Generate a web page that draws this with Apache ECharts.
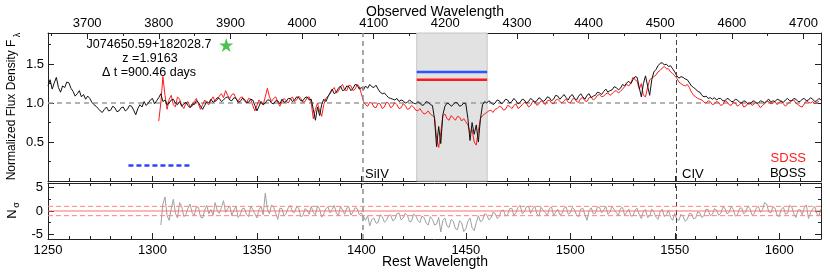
<!DOCTYPE html>
<html><head><meta charset="utf-8">
<script src="https://cdn.jsdelivr.net/npm/echarts@6/dist/echarts.min.js"></script>
<style>html,body{margin:0;padding:0;background:#fff}#c{width:830px;height:278px}</style>
</head><body><div id="c"></div>
<script>
// ---------- data ----------
const redshift = 1.9163;
const bossWave = [
1250,1251,1252,1253,1254,1255,1256,1257,1258,1259,1260,1261,1262,1263,1264,1265,1266,1267,1268,1269,
1270,1271,1272,1273,1274,1275,1276,1277,1278,1279,1280,1281,1282,1283,1284,1285,1286,1287,1288,1289,
1290,1291,1292,1293,1294,1295,1296,1297,1298,1299,1300,1301,1302,1303,1304,1305,1306,1307,1308,1309,
1310,1311,1312,1313,1314,1315,1316,1317,1318,1319,1320,1321,1322,1323,1324,1325,1326,1327,1328,1329,
1330,1331,1332,1333,1334,1335,1336,1337,1338,1339,1340,1341,1342,1343,1344,1345,1346,1347,1348,1349,
1350,1351,1352,1353,1354,1355,1356,1357,1358,1359,1360,1361,1362,1363,1364,1365,1366,1367,1368,1369,
1370,1371,1372,1373,1374,1375,1376,1377,1378,1379,1380,1381,1382,1383,1384,1385,1386,1387,1388,1389,
1390,1391,1392,1393,1394,1395,1396,1397,1398,1399,1400,1401,1402,1403,1404,1405,1406,1407,1408,1409,
1410,1411,1412,1413,1414,1415,1416,1417,1418,1419,1420,1421,1422,1423,1424,1425,1426,1427,1428,1429,
1430,1431,1432,1433,1434,1435,1436,1437,1438,1439,1440,1441,1442,1443,1444,1445,1446,1447,1448,1449,
1450,1451,1452,1453,1454,1455,1456,1457,1458,1459,1460,1461,1462,1463,1464,1465,1466,1467,1468,1469,
1470,1471,1472,1473,1474,1475,1476,1477,1478,1479,1480,1481,1482,1483,1484,1485,1486,1487,1488,1489,
1490,1491,1492,1493,1494,1495,1496,1497,1498,1499,1500,1501,1502,1503,1504,1505,1506,1507,1508,1509,
1510,1511,1512,1513,1514,1515,1516,1517,1518,1519,1520,1521,1522,1523,1524,1525,1526,1527,1528,1529,
1530,1531,1532,1533,1534,1535,1536,1537,1538,1539,1540,1541,1542,1543,1544,1545,1546,1547,1548,1549,
1550,1551,1552,1553,1554,1555,1556,1557,1558,1559,1560,1561,1562,1563,1564,1565,1566,1567,1568,1569,
1570,1571,1572,1573,1574,1575,1576,1577,1578,1579,1580,1581,1582,1583,1584,1585,1586,1587,1588,1589,
1590,1591,1592,1593,1594,1595,1596,1597,1598,1599,1600,1601,1602,1603,1604,1605,1606,1607,1608,1609,
1610,1611,1612,1613,1614,1615,1616,1617,1618,1619,1620];
const bossFlux = [
1.22,1.30,1.18,1.26,1.33,1.20,1.14,1.22,1.20,1.27,1.26,1.19,1.15,1.09,1.12,1.16,1.08,1.11,1.05,1.09,
1.06,1.01,0.98,0.96,0.93,0.90,0.88,0.92,0.95,0.90,0.91,0.96,0.94,0.89,0.90,0.94,0.95,0.90,0.92,0.97,
0.96,0.91,0.85,0.93,0.98,0.95,1.02,0.97,1.00,1.04,1.06,0.99,1.03,1.07,1.12,1.02,1.04,0.98,1.00,1.04,
1.05,1.00,0.98,1.02,0.96,0.99,1.01,0.97,0.94,0.99,0.98,1.03,1.01,0.96,0.92,0.97,1.02,1.00,1.05,1.01,
1.03,1.07,1.06,1.02,1.04,1.07,1.08,1.04,1.03,1.07,1.06,1.01,1.02,1.06,1.05,1.01,1.01,1.05,1.04,0.97,
0.90,0.96,1.02,0.98,1.00,1.04,1.04,1.00,0.99,1.03,1.03,0.99,1.05,1.01,1.02,1.06,1.06,1.02,1.04,1.08,
1.07,1.03,1.03,1.07,1.08,1.04,1.05,0.92,0.78,0.95,0.84,0.98,1.05,1.02,1.08,1.13,1.18,1.12,1.14,1.19,
1.22,1.16,1.17,1.22,1.21,1.16,1.19,1.24,1.23,1.18,1.20,1.17,1.22,1.19,1.24,1.21,1.20,1.23,1.18,1.14,
1.12,1.13,1.10,1.07,1.06,1.05,1.04,1.06,1.02,1.04,1.03,1.00,1.01,1.04,1.02,1.00,0.99,1.02,1.00,0.97,
0.98,1.02,1.01,0.98,0.97,0.80,0.44,0.70,0.48,0.85,0.96,1.00,0.99,0.96,0.98,1.01,1.00,0.96,0.97,1.00,
0.99,0.80,0.52,0.75,0.60,0.72,0.50,0.80,0.98,1.02,1.00,1.03,1.01,0.98,1.00,1.04,1.03,0.99,1.01,1.05,
1.04,1.00,1.02,1.06,1.03,0.99,1.01,1.05,1.04,1.00,1.02,1.06,1.04,1.01,1.03,1.07,1.05,1.02,1.04,1.08,
1.07,1.03,1.05,1.10,1.09,1.05,1.08,1.11,1.07,1.04,1.09,1.11,1.06,1.04,1.09,1.12,1.08,1.05,1.10,1.12,
1.07,1.09,1.10,1.14,1.13,1.11,1.15,1.18,1.14,1.16,1.17,1.21,1.20,1.17,1.19,1.24,1.22,1.26,1.28,1.25,
1.30,1.34,1.33,1.20,1.08,1.25,1.35,1.22,1.10,1.30,1.40,1.43,1.48,1.51,1.52,1.49,1.50,1.47,1.48,1.44,
1.40,1.35,1.32,1.34,1.33,1.31,1.30,1.26,1.22,1.20,1.18,1.15,1.14,1.10,1.08,1.09,1.06,1.07,1.05,1.07,
1.04,1.06,1.06,1.03,1.03,1.06,1.05,1.02,1.02,1.05,1.04,1.01,1.00,1.03,1.02,0.99,0.99,1.02,1.03,1.00,
1.00,1.03,1.02,1.00,1.03,1.05,1.01,1.03,1.02,1.05,1.04,1.02,1.01,1.04,1.06,1.03,1.03,1.06,1.05,1.02,
1.02,1.05,1.06,1.03,1.04,1.07,1.05,1.02,1.03,1.06,1.04];
const sdssWave = [
1303,1304,1305,1306,1307,1308,1309,1310,1311,1312,1313,1314,1315,1316,1317,1318,1319,1320,1321,1322,
1323,1324,1325,1326,1327,1328,1329,1330,1331,1332,1333,1334,1335,1336,1337,1338,1339,1340,1341,1342,
1343,1344,1345,1346,1347,1348,1349,1350,1351,1352,1353,1354,1355,1356,1357,1358,1359,1360,1361,1362,
1363,1364,1365,1366,1367,1368,1369,1370,1371,1372,1373,1374,1375,1376,1377,1378,1379,1380,1381,1382,
1383,1384,1385,1386,1387,1388,1389,1390,1391,1392,1393,1394,1395,1396,1397,1398,1399,1400,1401,1402,
1403,1404,1405,1406,1407,1408,1409,1410,1411,1412,1413,1414,1415,1416,1417,1418,1419,1420,1421,1422,
1423,1424,1425,1426,1427,1428,1429,1430,1431,1432,1433,1434,1435,1436,1437,1438,1439,1440,1441,1442,
1443,1444,1445,1446,1447,1448,1449,1450,1451,1452,1453,1454,1455,1456,1457,1458,1459,1460,1461,1462,
1463,1464,1465,1466,1467,1468,1469,1470,1471,1472,1473,1474,1475,1476,1477,1478,1479,1480,1481,1482,
1483,1484,1485,1486,1487,1488,1489,1490,1491,1492,1493,1494,1495,1496,1497,1498,1499,1500,1501,1502,
1503,1504,1505,1506,1507,1508,1509,1510,1511,1512,1513,1514,1515,1516,1517,1518,1519,1520,1521,1522,
1523,1524,1525,1526,1527,1528,1529,1530,1531,1532,1533,1534,1535,1536,1537,1538,1539,1540,1541,1542,
1543,1544,1545,1546,1547,1548,1549,1550,1551,1552,1553,1554,1555,1556,1557,1558,1559,1560,1561,1562,
1563,1564,1565,1566,1567,1568,1569,1570,1571,1572,1573,1574,1575,1576,1577,1578,1579,1580,1581,1582,
1583,1584,1585,1586,1587,1588,1589,1590,1591,1592,1593,1594,1595,1596,1597,1598,1599,1600,1601,1602,
1603,1604,1605,1606,1607,1608,1609,1610,1611,1612,1613,1614,1615,1616,1617,1618,1619];
const sdssFlux = [
0.77,1.00,1.34,1.10,0.92,1.05,1.10,0.98,0.95,1.08,1.05,0.97,0.93,1.00,1.02,0.95,0.96,1.02,1.06,0.99,
0.92,0.98,1.04,1.00,0.98,1.04,1.08,1.02,1.04,1.09,1.12,1.07,1.16,1.10,1.06,1.11,1.12,1.06,1.02,1.07,
1.08,1.03,1.00,1.06,1.05,0.97,0.90,0.97,1.04,1.00,0.98,1.08,1.19,1.08,1.02,1.06,1.08,1.01,0.96,1.02,
1.06,1.03,1.00,1.05,1.08,1.02,1.04,1.09,1.06,1.01,1.02,1.07,1.08,1.00,0.80,0.92,1.00,0.90,0.83,0.98,
1.06,1.09,1.12,1.17,1.20,1.13,1.15,1.21,1.24,1.17,1.16,1.23,1.22,1.16,1.18,1.24,1.21,1.12,1.02,0.98,
0.96,1.01,1.00,0.95,0.94,1.00,0.99,0.93,0.95,1.01,1.00,0.94,0.96,1.01,0.98,0.93,0.94,0.99,0.97,0.92,
0.93,0.97,0.95,0.91,0.90,0.93,0.89,0.86,0.87,0.90,0.86,0.84,0.82,0.55,0.43,0.62,0.84,0.86,0.80,0.78,
0.84,0.81,0.78,0.83,0.82,0.77,0.80,0.76,0.72,0.62,0.66,0.50,0.46,0.65,0.80,0.84,0.86,0.88,0.90,0.91,
0.88,0.92,0.93,0.96,0.95,0.91,0.92,0.97,0.96,0.93,0.97,0.99,0.93,0.95,0.98,1.01,1.00,0.95,0.97,1.02,
1.02,0.97,0.99,1.03,1.01,0.98,1.03,1.04,1.00,0.99,1.04,1.05,1.02,1.00,1.03,1.05,1.01,1.00,1.05,1.06,
1.02,1.01,1.06,1.07,1.03,1.02,1.07,1.08,1.04,1.06,1.10,1.11,1.08,1.09,1.12,1.13,1.10,1.12,1.15,1.16,
1.13,1.15,1.18,1.21,1.24,1.22,1.26,1.33,1.30,1.28,1.18,1.25,1.10,1.08,1.20,1.30,1.32,1.34,1.36,1.40,
1.42,1.45,1.47,1.44,1.44,1.40,1.38,1.35,1.32,1.27,1.25,1.23,1.22,1.24,1.20,1.14,1.10,1.08,1.06,1.05,
1.04,1.01,1.00,1.03,1.02,0.98,0.99,1.02,1.01,0.97,0.98,1.03,1.02,0.98,0.97,1.01,1.00,0.96,0.98,1.01,
0.95,0.96,1.00,1.01,0.97,0.99,1.01,0.98,0.94,0.97,0.99,1.02,1.02,0.99,1.00,1.02,0.98,1.01,1.03,0.99,
0.96,0.99,1.01,1.03,1.04,1.00,0.98,0.96,0.95,0.99,1.03,1.01,1.00,1.02,0.99,1.01,1.02];
const residWave = [
1304,1305,1306,1307,1308,1309,1310,1311,1312,1313,1314,1315,1316,1317,1318,1319,1320,1321,1322,1323,
1324,1325,1326,1327,1328,1329,1330,1331,1332,1333,1334,1335,1336,1337,1338,1339,1340,1341,1342,1343,
1344,1345,1346,1347,1348,1349,1350,1351,1352,1353,1354,1355,1356,1357,1358,1359,1360,1361,1362,1363,
1364,1365,1366,1367,1368,1369,1370,1371,1372,1373,1374,1375,1376,1377,1378,1379,1380,1381,1382,1383,
1384,1385,1386,1387,1388,1389,1390,1391,1392,1393,1394,1395,1396,1397,1398,1399,1400,1401,1402,1403,
1404,1405,1406,1407,1408,1409,1410,1411,1412,1413,1414,1415,1416,1417,1418,1419,1420,1421,1422,1423,
1424,1425,1426,1427,1428,1429,1430,1431,1432,1433,1434,1435,1436,1437,1438,1439,1440,1441,1442,1443,
1444,1445,1446,1447,1448,1449,1450,1451,1452,1453,1454,1455,1456,1457,1458,1459,1460,1461,1462,1463,
1464,1465,1466,1467,1468,1469,1470,1471,1472,1473,1474,1475,1476,1477,1478,1479,1480,1481,1482,1483,
1484,1485,1486,1487,1488,1489,1490,1491,1492,1493,1494,1495,1496,1497,1498,1499,1500,1501,1502,1503,
1504,1505,1506,1507,1508,1509,1510,1511,1512,1513,1514,1515,1516,1517,1518,1519,1520,1521,1522,1523,
1524,1525,1526,1527,1528,1529,1530,1531,1532,1533,1534,1535,1536,1537,1538,1539,1540,1541,1542,1543,
1544,1545,1546,1547,1548,1549,1550,1551,1552,1553,1554,1555,1556,1557,1558,1559,1560,1561,1562,1563,
1564,1565,1566,1567,1568,1569,1570,1571,1572,1573,1574,1575,1576,1577,1578,1579,1580,1581,1582,1583,
1584,1585,1586,1587,1588,1589,1590,1591,1592,1593,1594,1595,1596,1597,1598,1599,1600,1601,1602,1603,
1604,1605,1606,1607,1608,1609,1610,1611,1612,1613,1614,1615,1616,1617,1618,1619,1620];
const residSigma = [
-3.0,1.5,3.0,-1.0,-2.0,0.5,2.5,-0.5,-1.5,1.8,1.0,-1.2,-0.8,0.6,1.5,-0.4,-1.0,0.9,0.8,-1.3,
-1.5,0.2,1.2,-0.6,0.3,-0.9,1.8,0.1,-0.5,0.7,2.2,-0.3,0.5,1.1,-1.0,0.2,1.0,-1.4,-0.8,0.5,
0.6,-0.7,-1.2,0.9,0.4,-0.6,-1.5,0.3,1.0,-0.8,3.8,0.4,-0.6,1.3,0.8,-0.5,-1.8,0.6,0.5,-1.1,
-0.5,0.7,1.2,-0.2,-0.3,0.9,0.6,-1.2,-1.0,0.5,0.2,-0.7,1.0,-0.3,-0.8,1.1,0.4,-1.3,-0.6,0.5,
0.9,-0.4,0.3,1.2,-0.4,-1.0,1.0,0.2,-0.7,0.6,0.8,-0.9,-0.2,0.7,0.5,-0.8,-0.4,-1.2,-2.0,-1.0,
-3.2,-1.8,-1.5,-2.6,-2.5,-0.8,-1.2,-2.4,-2.0,-1.0,-0.8,-2.1,-1.8,-0.6,-0.4,-1.9,-1.5,-0.5,-0.9,-2.3,
-2.2,-0.7,-1.0,-2.0,-2.5,-1.1,-1.4,-2.6,-3.0,-1.2,-1.8,-3.0,-2.8,-1.4,-4.5,-2.0,-1.5,-3.2,-3.5,-1.8,
-2.2,-3.8,-4.0,-2.1,-2.5,-4.4,-3.8,-2.2,-1.5,-3.6,-4.2,-2.5,-1.0,-2.3,-2.0,-0.6,-0.8,-1.9,-1.5,-0.3,
-0.5,-1.6,-1.2,0.1,0.2,-1.1,-0.8,0.5,0.6,-0.9,-0.4,0.8,1.2,-0.6,-0.2,0.9,1.0,-0.5,0.4,1.1,
-0.6,-1.1,0.8,0.2,-0.3,-1.0,0.5,0.9,-1.0,-0.2,0.4,-0.8,-0.6,0.6,0.9,-0.7,-0.4,0.8,0.3,-0.9,
-1.2,0.4,0.6,-0.8,-2.0,0.1,0.7,-0.6,-0.5,0.9,0.8,-0.4,0.2,1.0,-0.7,-0.2,1.0,0.3,-0.3,-1.0,
0.5,0.8,-0.9,-0.3,0.4,-1.1,-1.0,0.2,0.6,-0.8,-1.6,0.0,0.3,-1.4,-1.1,0.4,-0.2,-1.3,-1.8,-0.1,
0.4,-1.2,-0.8,0.2,-1.4,-2.0,-0.5,-1.8,-2.0,-0.7,-1.2,-2.2,-1.8,-0.5,-0.6,-1.7,-1.5,-0.2,-0.4,-1.4,
-1.0,0.4,0.3,-1.0,-0.7,0.5,0.2,-0.9,-0.5,0.8,0.6,-0.6,-0.3,0.9,0.4,-1.1,-0.8,0.5,0.7,-0.6,
-0.2,1.1,0.5,-0.9,-0.6,0.6,1.0,-0.3,0.3,1.8,1.5,-0.2,-0.4,0.9,0.6,-0.9,-1.2,0.4,0.8,-0.7,
-0.5,1.2,0.9,-0.6,-1.4,0.2,0.3,-0.8,0.7,1.3,-1.6,-0.4,0.4,1.0,-0.6,-1.0,0.5];
const obsTickLabels = [3700,3800,3900,4000,4100,4200,4300,4400,4500,4600,4700];
const obsMinorTicks = [3650,3750,3850,3950,4050,4150,4250,4350,4450,4550,4650];
const sigmaTickLabels = [-5,0,5];
const sigmaMinorTicks = [-2.5,2.5];
const shadeRange = [1426.5, 1460.2];
const bossLevel = 1.40;
const sdssLevel = 1.30;
const unityLevel = 1.0;
const lineWaves = [1400.5, 1550.5];   // SiIV, CIV
const lineNames = ['SiIV', 'CIV'];
const blueDashWave = [1288.5, 1318.5];
const blueDashLevel = [0.2, 0.2];
const starPoint = [1335.3, 1.745];
const sigmaRefLevels = [0, 1, -1];

// ---------- chart ----------
const FONT = '"Liberation Sans", Arial, Helvetica, sans-serif';
const AX = '#222';
const zip = (a, b) => a.map((v, i) => [v, b[i]]);
const restMin = 1250, restMax = 1620;
const restSpan = [restMin, restMax];
const obsMin = restMin * (1 + redshift), obsMax = restMax * (1 + redshift);

function axis(o) {
  const a = {
    type: 'value', gridIndex: o.grid, position: o.pos, min: o.min, max: o.max,
    splitLine: { show: false },
    axisLine: { show: !!o.line, onZero: false, lineStyle: { color: AX, width: 1 } },
    axisTick: { show: true, inside: true, length: o.len, lineStyle: { color: AX, width: 1 } },
    axisLabel: { show: false }
  };
  if (o.interval != null) a.interval = o.interval;
  if (o.tickValues) a.axisTick.customValues = o.tickValues;
  if (o.labels) a.axisLabel = Object.assign({ show: true, color: '#000', fontSize: 13, fontFamily: FONT,
    formatter: v => String(v) }, o.labels);
  return a;
}

const xAxes = [
  axis({ grid: 0, pos: 'bottom', min: restMin, max: restMax, interval: 50, len: 5, line: true }),
  axis({ grid: 0, pos: 'bottom', min: restMin, max: restMax, interval: 10, len: 3 }),
  axis({ grid: 0, pos: 'top', min: obsMin, max: obsMax, len: 6, line: true, tickValues: obsTickLabels,
         labels: { customValues: obsTickLabels, margin: 3 } }),
  axis({ grid: 0, pos: 'top', min: obsMin, max: obsMax, len: 3, tickValues: obsMinorTicks }),
  axis({ grid: 1, pos: 'top', min: restMin, max: restMax, interval: 50, len: 5, line: true }),
  axis({ grid: 1, pos: 'top', min: restMin, max: restMax, interval: 10, len: 3 }),
  axis({ grid: 1, pos: 'bottom', min: restMin, max: restMax, interval: 50, len: 6, line: true,
         labels: { margin: 5, showMaxLabel: false, showMinLabel: true } }),
  axis({ grid: 1, pos: 'bottom', min: restMin, max: restMax, interval: 10, len: 3 })
];
const yAxes = [
  axis({ grid: 0, pos: 'left', min: 0, max: 1.9, interval: 0.5, len: 6, line: true,
         labels: { margin: 4, showMinLabel: false, showMaxLabel: false, formatter: v => v.toFixed(1) } }),
  axis({ grid: 0, pos: 'left', min: 0, max: 1.9, interval: 0.25, len: 3 }),
  axis({ grid: 0, pos: 'right', min: 0, max: 1.9, interval: 0.5, len: 6, line: true }),
  axis({ grid: 0, pos: 'right', min: 0, max: 1.9, interval: 0.25, len: 3 }),
  axis({ grid: 1, pos: 'left', min: -6, max: 6, len: 6, line: true, tickValues: sigmaTickLabels,
         labels: { customValues: sigmaTickLabels, margin: 5 } }),
  axis({ grid: 1, pos: 'left', min: -6, max: 6, len: 3, tickValues: sigmaMinorTicks }),
  axis({ grid: 1, pos: 'right', min: -6, max: 6, len: 6, line: true, tickValues: sigmaTickLabels }),
  axis({ grid: 1, pos: 'right', min: -6, max: 6, len: 3, tickValues: sigmaMinorTicks })
];

const vLineStyles = [
  { type: [5, 4], color: '#8c8c8c', width: 1.5 },
  { type: [5, 3], color: '#444', width: 1 }
];
const vLines = () => lineWaves.map((w, i) => ({ xAxis: w, lineStyle: Object.assign({}, vLineStyles[i]) }));

function flat(xi, yi, xs, ys, style, z) {
  return { type: 'line', xAxisIndex: xi, yAxisIndex: yi, data: zip(xs, ys), symbol: 'none',
    lineStyle: style, z: z, silent: true, animation: false };
}

const series = [
  { // shaded window + vertical lines
    type: 'line', xAxisIndex: 0, yAxisIndex: 0, data: [], silent: true, symbol: 'none', z: 1,
    markArea: { silent: true, itemStyle: { color: '#e2e2e2', borderColor: '#c4c4c4', borderWidth: 1 },
      data: [[{ xAxis: shadeRange[0] }, { xAxis: shadeRange[1] }]] },
    markLine: { silent: true, symbol: 'none', label: { show: false }, animation: false, data: vLines() }
  },
  flat(0, 0, restSpan, [unityLevel, unityLevel], { type: [5, 4], color: '#9a9a9a', width: 1.5 }, 2),
  { type: 'line', name: 'SDSS', xAxisIndex: 0, yAxisIndex: 0, data: zip(sdssWave, sdssFlux),
    symbol: 'none', lineStyle: { color: '#ff1a1a', width: 1 }, z: 3, silent: true },
  { type: 'line', name: 'BOSS', xAxisIndex: 0, yAxisIndex: 0, data: zip(bossWave, bossFlux),
    symbol: 'none', lineStyle: { color: '#111', width: 1 }, z: 4, silent: true },
  flat(0, 0, shadeRange, [bossLevel, bossLevel], { color: '#2b55ff', width: 2.5 }, 5),
  flat(0, 0, shadeRange, [sdssLevel, sdssLevel], { color: '#ff1a1a', width: 2.5 }, 5),
  flat(0, 0, blueDashWave, blueDashLevel, { color: '#2b45ff', width: 2.5, type: [5, 3] }, 5),
  { type: 'scatter', xAxisIndex: 0, yAxisIndex: 0, data: [starPoint], z: 6, silent: true,
    symbol: 'path://M50,0 L61.8,35.5 L99,35.5 L69,57.5 L80.5,93 L50,71 L19.5,93 L31,57.5 L1,35.5 L38.2,35.5 Z',
    symbolSize: 14, itemStyle: { color: '#22b022' } },
  { type: 'line', xAxisIndex: 6, yAxisIndex: 4, data: zip(residWave, residSigma),
    symbol: 'none', lineStyle: { color: '#a0a0a0', width: 1 }, z: 3, silent: true,
    markLine: { silent: true, symbol: 'none', label: { show: false }, animation: false, data: vLines() } },
  flat(6, 4, restSpan, [sigmaRefLevels[0], sigmaRefLevels[0]], { type: 'solid', color: '#ff6e6e', width: 1 }, 5),
  flat(6, 4, restSpan, [sigmaRefLevels[1], sigmaRefLevels[1]], { type: [5, 3], color: '#ff8080', width: 1 }, 5),
  flat(6, 4, restSpan, [sigmaRefLevels[2], sigmaRefLevels[2]], { type: [5, 3], color: '#ff8080', width: 1 }, 5)
];

function txt(x, y, text, o) {
  return Object.assign({ type: 'text', x: x, y: y, silent: true, z: 100,
    style: Object.assign({ text: text, fontSize: 13, fontFamily: FONT, fill: '#000',
      align: 'center', verticalAlign: 'middle' }, (o && o.style) || {}) },
    (o && o.rotation != null) ? { rotation: o.rotation } : {});
}

const graphics = [
  txt(435, 12, 'Observed Wavelength', { style: { fontSize: 14 } }),
  txt(435, 262, 'Rest Wavelength', { style: { fontSize: 14 } }),
  txt(12, 110, 'Normalized Flux Density F', { rotation: Math.PI / 2, style: { fontSize: 12 } }),
  txt(18, 35, 'λ', { rotation: Math.PI / 2, style: { fontSize: 9 } }),
  txt(12, 214, 'N', { rotation: Math.PI / 2, style: { fontSize: 13 } }),
  txt(17, 205, 'σ', { rotation: Math.PI / 2, style: { fontSize: 9 } }),
  txt(149, 45, 'J074650.59+182028.7', { style: { fontSize: 12.5 } }),
  txt(150, 59, 'z =1.9163', { style: { fontSize: 12.5 } }),
  txt(149, 73, 'Δ t =900.46 days', { style: { fontSize: 12.5 } }),
  txt(365, 174, lineNames[0], { style: { align: 'left' } }),
  txt(682, 174, lineNames[1], { style: { align: 'left' } }),
  txt(806, 158, 'SDSS', { style: { align: 'right', fill: '#ff1a1a' } }),
  txt(806, 173, 'BOSS', { style: { align: 'right' } })
];

const chart = echarts.init(document.getElementById('c'), null, { renderer: 'canvas' });
chart.setOption({
  animation: false,
  backgroundColor: '#fff',
  grid: [
    { left: 48, right: 9, top: 33, height: 148 },
    { left: 48, right: 9, top: 183, height: 56 }
  ],
  xAxis: xAxes,
  yAxis: yAxes,
  series: series,
  graphic: graphics
});
</script>
</body></html>
